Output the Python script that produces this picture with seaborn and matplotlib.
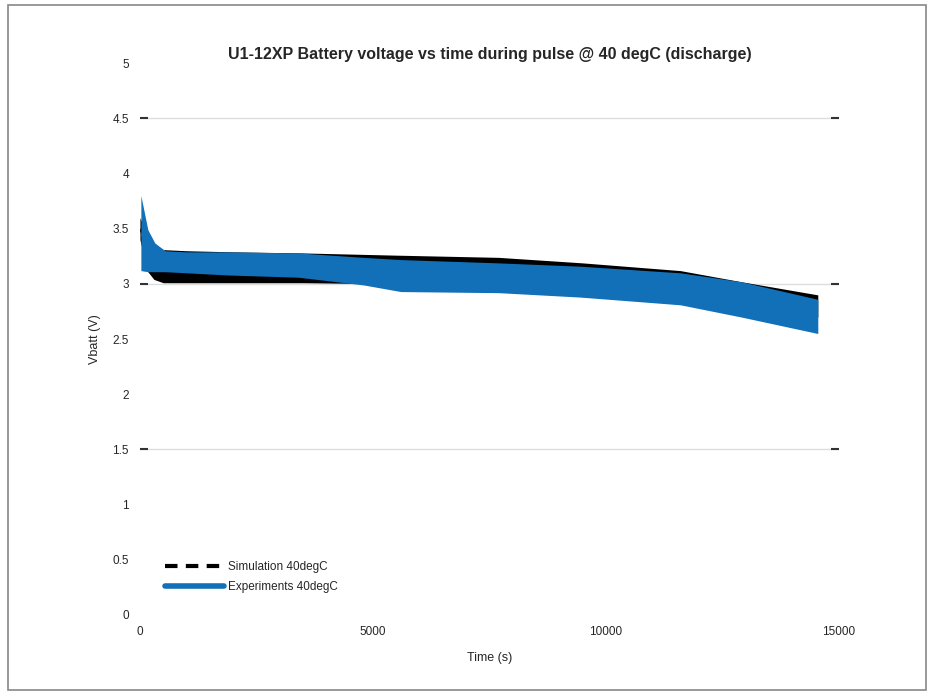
import matplotlib
matplotlib.use("Agg")
import matplotlib.pyplot as plt
import seaborn as sns
import pandas as pd
from matplotlib.lines import Line2D
from matplotlib.patches import Rectangle

# ---- data (envelopes of the pulsed voltage) ----
sim_time = [0, 150, 300, 500, 1000, 2000, 3500, 5500, 7700, 9500, 11600, 12900, 14550]
sim_upper = [3.60, 3.45, 3.36, 3.31, 3.30, 3.29, 3.28, 3.26, 3.24, 3.19, 3.12, 3.02, 2.90]
sim_lower = [3.40, 3.12, 3.04, 3.01, 3.01, 3.01, 3.01, 3.00, 2.98, 2.95, 2.90, 2.80, 2.70]

exp_time = [20, 170, 320, 540, 1000, 1900, 3400, 4800, 5600, 7700, 9450, 11600, 12900, 14550]
exp_upper = [3.80, 3.49, 3.37, 3.30, 3.29, 3.29, 3.28, 3.24, 3.22, 3.19, 3.16, 3.10, 3.02, 2.86]
exp_lower = [3.12, 3.11, 3.11, 3.11, 3.10, 3.08, 3.06, 2.99, 2.93, 2.92, 2.88, 2.81, 2.70, 2.55]

series_names = ["Simulation 40degC", "Experiments 40degC"]
title = "U1-12XP Battery voltage vs time during pulse @ 40 degC (discharge)"
x_ticks = [0, 5000, 10000, 15000]
y_ticks = [0, 0.5, 1, 1.5, 2, 2.5, 3, 3.5, 4, 4.5, 5]
grid_levels = [1.5, 3, 4.5]

sim_df = pd.DataFrame({"t": sim_time + sim_time, "v": sim_upper + sim_lower})
exp_df = pd.DataFrame({"t": exp_time + exp_time, "v": exp_upper + exp_lower})

sns.set_theme(style="white")
plt.rcParams["font.family"] = ["Liberation Sans", "DejaVu Sans"]

fig = plt.figure(figsize=(9.33, 6.94), dpi=100)
ax = fig.add_axes([0.150, 0.114, 0.749, 0.795])

black = "#000000"
blue = "#1170B8"
rng = lambda v: (v.min(), v.max())

sns.lineplot(data=sim_df, x="t", y="v", ax=ax, color=black, linewidth=0.6,
             estimator="mean", errorbar=rng, err_kws={"alpha": 1, "zorder": 2, "linewidth": 0},
             zorder=2)
sns.lineplot(data=exp_df, x="t", y="v", ax=ax, color=blue, linewidth=0.6,
             estimator="mean", errorbar=rng, err_kws={"alpha": 1, "zorder": 3, "linewidth": 0},
             zorder=3)

for g in grid_levels:
    ax.axhline(g, color="#dddddd", linewidth=1.0, zorder=0)

ax.set_xlim(0, 15000)
ax.set_ylim(0, 5)
ax.set_xticks(x_ticks)
ax.set_xticklabels([str(v) for v in x_ticks], fontsize=8.5)
ax.set_yticks(y_ticks)
ax.set_yticklabels([f"{v:g}" for v in y_ticks], fontsize=8.5)
ax.yaxis.remove_overlapping_locs = False
ax.set_yticks(grid_levels, minor=True)
ax.tick_params(axis="both", which="major", length=0, pad=8)
ax.tick_params(axis="y", which="minor", length=6, width=1.5, direction="in",
               left=True, right=True, color="#333333")
for s in ax.spines.values():
    s.set_visible(False)

ax.set_xlabel("Time (s)", fontsize=9, labelpad=10)
ax.set_ylabel("Vbatt (V)", fontsize=9, labelpad=8)
ax.set_title(title, fontsize=11.5, fontweight="bold", pad=3)

handles = [Line2D([0], [0], color=black, linewidth=3, linestyle=(0, (3, 2))),
           Line2D([0], [0], color=blue, linewidth=4)]
leg = ax.legend(handles, series_names, loc="lower left", bbox_to_anchor=(0.02, 0.02),
                fontsize=8.5, frameon=False, handlelength=5, handletextpad=0.4,
                labelspacing=0.7)

fig.patches.append(Rectangle((0.009, 0.006), 0.983, 0.987, transform=fig.transFigure,
                             fill=False, edgecolor="#888888", linewidth=1.2))

fig.savefig("out.png", dpi=100)
